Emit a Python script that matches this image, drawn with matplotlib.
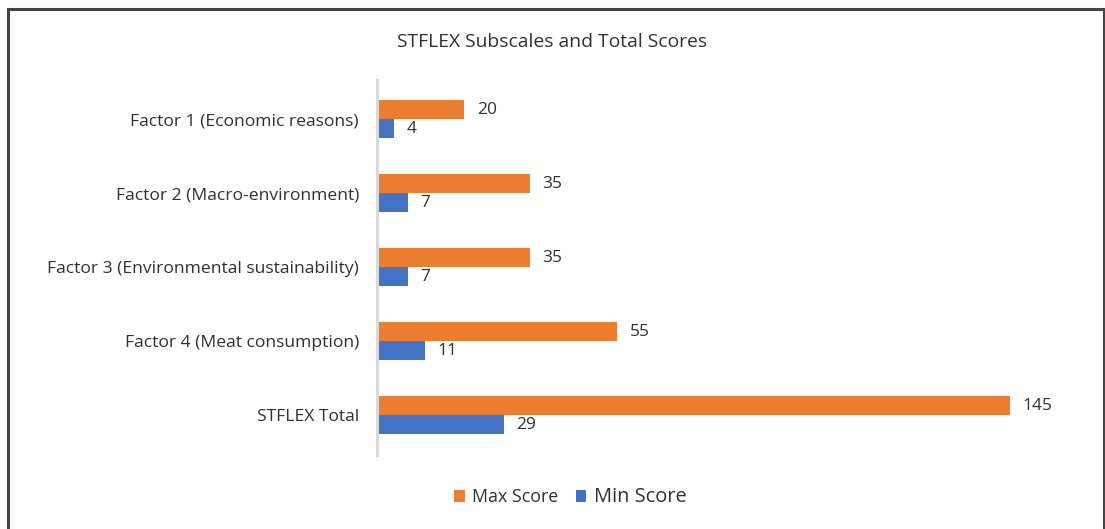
import matplotlib.pyplot as plt
from matplotlib.patches import Rectangle

plt.rcParams['font.family'] = ['Open Sans', 'DejaVu Sans']

categories = ['Factor 1 (Economic reasons)', 'Factor 2 (Macro-environment)',
              'Factor 3 (Environmental sustainability)', 'Factor 4 (Meat consumption)',
              'STFLEX Total']
max_score = [20, 35, 35, 55, 145]
min_score = [4, 7, 7, 11, 29]

orange = '#ED7D31'
blue = '#4472C4'
txt = '#303030'

fig = plt.figure(figsize=(11.05, 5.29), dpi=100)
ax = fig.add_axes([0.3412, 0.1399, 0.6317, 0.7089])

pos = list(range(len(categories)))
h = 0.256
ax.barh([p - h / 2 for p in pos], max_score, height=h, color=orange, label='Max Score')
ax.barh([p + h / 2 for p in pos], min_score, height=h, color=blue, label='Min Score')

# value labels
for p, v in zip(pos, max_score):
    ax.annotate(str(v), (v, p - h / 2), xytext=(9, 0), textcoords='offset points',
                va='center', ha='left', fontsize=12.5, color=txt)
for p, v in zip(pos, min_score):
    ax.annotate(str(v), (v, p + h / 2), xytext=(9, 0), textcoords='offset points',
                va='center', ha='left', fontsize=12.5, color=txt)

ax.set_xlim(0, 160)
ax.set_ylim(4.54, -0.53)
ax.set_yticks(pos)
ax.set_yticklabels(categories, fontsize=12.6, color=txt)
ax.tick_params(axis='y', length=0, pad=13)
ax.set_xticks([])
for s in ['top', 'right', 'bottom']:
    ax.spines[s].set_visible(False)
ax.spines['left'].set_color('#d9d9d9')
ax.spines['left'].set_linewidth(2.2)

fig.text(0.5, 0.921, 'STFLEX Subscales and Total Scores', ha='center', va='center',
         fontsize=13.9, color=txt)

leg = fig.legend(loc='center', bbox_to_anchor=(0.516, 0.06), ncol=2, frameon=False,
                 fontsize=12.8, handlelength=0.6, handleheight=0.6, handletextpad=0.4,
                 columnspacing=1.0)
for t in leg.get_texts():
    t.set_color(txt)
leg.get_texts()[1].set_fontsize(14.4)

# outer border (bottom edge cut off)
fig.patches.append(Rectangle((8 / 1105, -0.05), 1096 / 1105, 1.05 - 8.5 / 529,
                             transform=fig.transFigure, fill=False,
                             edgecolor='#444444', linewidth=2.2))

fig.savefig('out.png', dpi=100)
